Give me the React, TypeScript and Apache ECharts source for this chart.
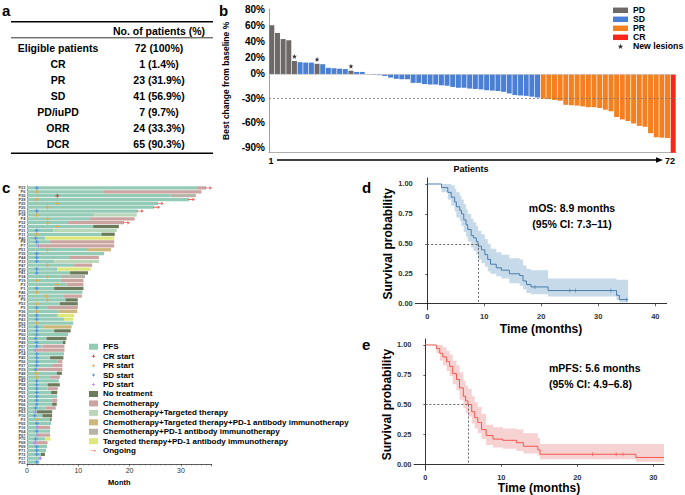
import React, { useEffect, useRef } from 'react';
import * as echarts from 'echarts';

const FONT = '"Liberation Sans", Arial, Helvetica, sans-serif';

// ---------- Panel a: response table ----------
const tableRows = ['Eligible patients', 'CR', 'PR', 'SD', 'PD/iuPD', 'ORR', 'DCR'];
const tableValues = ['72 (100%)', '1 (1.4%)', '23 (31.9%)', '41 (56.9%)', '7 (9.7%)', '24 (33.3%)', '65 (90.3%)'];
const tableHeader = 'No. of patients (%)';

// ---------- Panel b: waterfall ----------
const wfChange = [
  60, 50.5, 43, 41.5, 16, 14.5, 14, 14, 12.5, 12, 7.5, 7, 6.5, 6, 4, 2.5, 2.5, -0.5, -1, -1.5,
  -2.5, -4.5, -6, -6.5, -6.5, -11, -11, -12.5, -13, -13, -14, -14.5, -16, -17, -17, -18, -18.5, -19, -20, -20.5,
  -21, -22, -24, -26, -26.5, -27, -28, -29, -30.5, -31, -32, -33, -38, -38.5, -39, -40, -41, -41, -42, -44,
  -46, -53, -56, -58, -61, -64, -65, -73, -78, -78.5, -79, -97,
];
const wfResponse = [
  'PD', 'PD', 'PD', 'PD', 'PD', 'SD', 'SD', 'SD', 'PD', 'SD', 'SD', 'SD', 'SD', 'SD', 'PD', 'SD', 'SD', 'SD', 'SD', 'SD',
  'SD', 'SD', 'SD', 'SD', 'SD', 'SD', 'SD', 'SD', 'SD', 'SD', 'SD', 'SD', 'SD', 'SD', 'SD', 'SD', 'SD', 'SD', 'SD', 'SD',
  'SD', 'SD', 'SD', 'SD', 'SD', 'SD', 'SD', 'SD', 'PR', 'PR', 'PR', 'PR', 'PR', 'PR', 'PR', 'PR', 'PR', 'PR', 'PR', 'PR',
  'PR', 'PR', 'PR', 'PR', 'PR', 'PR', 'PR', 'PR', 'PR', 'PR', 'PR', 'CR',
];
const wfNewLesions = [5, 9, 15]; // patient positions (1-based)
const wfTickValues = [-90, -60, -30, 0, 20, 40, 60, 80];
const wfThreshold = -30;
const wfCodes = ['PD', 'SD', 'PR', 'CR'];
const wfColors: Record<string, string> = { PD: '#6d6969', SD: '#4a7fd6', PR: '#f4801f', CR: '#f9261b' };

// ---------- Panel c: swimmer plot ----------
const swPatients = [
  'P23', 'P6', 'P30', 'P28', 'P25', 'P26', 'P15', 'P18', 'P4', 'P32', 'P12', 'P31', 'P11', 'P40', 'P8', 'P7', 'P51', 'P35',
  'P44', 'P33', 'P47', 'P20', 'P41', 'P34', 'P19', 'P3', 'P1', 'P46', 'P37', 'P9', 'P53', 'P5', 'P36', 'P39', 'P43', 'P52',
  'P13', 'P24', 'P60', 'P38', 'P49', 'P57', 'P21', 'P14', 'P45', 'P56', 'P27', 'P29', 'P48', 'P50', 'P42', 'P58', 'P62', 'P55',
  'P61', 'P54', 'P66', 'P59', 'P63', 'P10', 'P2', 'P65', 'P16', 'P64', 'P67', 'P70', 'P68', 'P69', 'P71', 'P72', 'P17', 'P22',
];
const swPfs = [
  33.1, 15.0, 28.0, 31.6, 25.5, 24.8, 21.6, 13.1, 12.3, 8.0, 12.9, 5.1, 14.5, 3.5, 4.5, 2.5, 11.9, 15.0,
  8.2, 5.3, 9.2, 5.9, 8.4, 6.6, 6.6, 7.7, 5.3, 10.8, 7.2, 7.5, 6.4, 4.1, 6.2, 6.0, 7.2, 9.0,
  3.3, 5.3, 8.0, 3.8, 7.0, 3.0, 1.7, 7.2, 4.5, 5.9, 4.9, 2.0, 5.8, 4.5, 6.2, 4.0, 4.0, 4.7,
  5.9, 4.9, 4.9, 3.6, 1.9, 3.0, 4.5, 4.7, 2.0, 4.5, 2.0, 3.5, 1.5, 3.9, 3.7, 2.7, 2.7, 2.4,
];
const swEnd = [
  34.9, 34.0, 32.9, 31.6, 25.5, 24.8, 21.6, 21.4, 21.0, 18.9, 17.9, 17.5, 17.1, 17.0, 17.0, 17.0, 16.4, 15.0,
  14.0, 14.0, 12.7, 12.4, 11.9, 11.3, 11.0, 11.0, 11.0, 10.8, 10.7, 9.9, 9.9, 9.9, 9.8, 9.2, 9.0, 9.0,
  8.7, 8.5, 8.0, 7.7, 7.5, 7.3, 7.3, 7.2, 7.1, 6.9, 6.9, 6.9, 6.8, 6.4, 6.2, 6.4, 6.0, 5.9,
  5.9, 5.9, 5.8, 5.6, 4.9, 4.9, 4.8, 4.7, 4.5, 4.5, 4.5, 4.6, 4.0, 3.9, 3.7, 3.5, 2.7, 2.4,
];
const swTreat = [
  'C', 'C', 'CP', '', '', '', '', 'CT', 'C', 'C', 'N', 'CT', 'N', 'TP', 'C', 'C', 'CTP', '',
  'C', 'CT', 'C', 'TP', 'N', 'CP', 'C', 'C', 'N', '', 'C', 'N', 'N', 'C', 'CTP', 'TP', 'TP', '',
  'CTP', 'N', '', 'N', 'N', 'C', 'C', '', 'N', 'C', 'C', 'C', 'N', 'C', '', 'N', 'C', 'N',
  '', 'C', 'N', 'C', 'N', 'N', 'N', '', 'C', '', 'C', 'TP', 'C', '', '', 'N', '', '',
];
const swResp = [
  'SD', 'PR', 'CR', 'PR', 'PR', 'PR', 'SD', 'PR', 'PR', 'PR', 'PR', 'SD', 'PR', 'SD', 'SD', 'PD', 'PR', 'SD',
  'SD', 'SD', 'PR', 'SD', 'SD', 'PR', 'PR', 'PR', 'SD', 'PR', 'PR', 'PR', 'PR', 'SD', 'PR', 'SD', 'SD', 'PR',
  'SD', 'SD', 'SD', 'SD', 'SD', 'SD', 'PD', 'SD', 'SD', 'SD', 'SD', 'SD', 'PR', 'PR', 'SD', 'SD', 'SD', 'SD',
  'SD', 'SD', 'SD', 'SD', 'PD', 'SD', 'PR', 'SD', 'PD', 'SD', 'PD', 'SD', 'PD', 'SD', 'SD', 'SD', 'PD', 'SD',
];
const swRespTime = [
  1.9, 1.9, 5.9, 1.9, 5.9, 4.0, 1.9, 1.9, 4.0, 4.0, 5.9, 1.9, 1.9, 1.7, 1.9, 2.2, 4.0, 1.9,
  1.9, 1.9, 4.0, 1.9, 1.9, 4.0, 1.9, 5.9, 1.9, 1.9, 3.8, 4.0, 1.9, 1.9, 1.9, 1.9, 1.9, 1.9,
  1.9, 1.9, 1.9, 1.7, 1.9, 1.9, 1.6, 1.9, 1.9, 1.9, 1.9, 1.7, 1.9, 1.9, 1.9, 1.9, 1.9, 1.9,
  1.9, 1.9, 1.9, 1.7, 1.6, 1.5, 2.0, 1.9, 2.0, 1.9, 2.0, 1.7, 1.5, 1.9, 1.9, 1.9, 2.6, 1.9,
];
const swOngoing = [1, 4, 5, 6, 7, 10]; // row numbers (1-based)
const swTreatCodes = ['N', 'C', 'CT', 'CTP', 'CP', 'TP'];
const swTreatNames: Record<string, string> = {
  N: 'No treatment',
  C: 'Chemotherapy',
  CT: 'Chemotherapy+Targeted therapy',
  CTP: 'Chemotherapy+Targeted therapy+PD-1 antibody immunotherapy',
  CP: 'Chemotherapy+PD-1 antibody immunotherapy',
  TP: 'Targeted therapy+PD-1 antibody immunotherapy',
};
const swTreatColors: Record<string, string> = {
  N: '#6c7b5b', C: '#c9a4a1', CT: '#bad6b8', CTP: '#cdb77b', CP: '#b6b4a6', TP: '#dde77c',
};
const swRespCodes = ['CR', 'PR', 'SD', 'PD'];
const swRespColors: Record<string, string> = { CR: '#c6262b', PR: '#f2a431', SD: '#3f80e6', PD: '#b57cf6' };
const swPfsColor = '#94cbb7';
const swOngoingColor = '#e8413c';

// ---------- Panel d: overall survival ----------
const osTime = [0, 2.5, 3.6, 4.2, 4.8, 5.1, 5.7, 6.0, 6.4, 6.8, 7.1, 7.7, 8.1, 8.6, 8.9, 9.5, 10.1, 10.6, 11.1, 12.1, 13.0, 14.4, 16.2, 16.8, 17.4, 18.2, 21.2, 33.2, 33.7, 35.2];
const osSurv = [1, 0.97, 0.93, 0.89, 0.85, 0.81, 0.78, 0.75, 0.70, 0.66, 0.62, 0.57, 0.55, 0.52, 0.48, 0.45, 0.41, 0.37, 0.33, 0.30, 0.28, 0.25, 0.235, 0.19, 0.16, 0.14, 0.11, 0.07, 0.035, 0.035];
const osUpper = [1, 1, 1, 0.99, 0.96, 0.93, 0.90, 0.87, 0.83, 0.79, 0.75, 0.71, 0.68, 0.65, 0.61, 0.58, 0.54, 0.50, 0.46, 0.43, 0.41, 0.38, 0.37, 0.32, 0.29, 0.28, 0.21, 0.20, 0.20, 0.20];
const osLower = [1, 0.93, 0.87, 0.82, 0.77, 0.72, 0.69, 0.65, 0.60, 0.56, 0.52, 0.47, 0.44, 0.41, 0.37, 0.34, 0.31, 0.27, 0.25, 0.23, 0.21, 0.17, 0.15, 0.12, 0.09, 0.08, 0.06, 0.03, 0.01, 0.01];
const osCensor = [18.9, 25.0, 26.0, 32.2, 35.0];
const osMedian = 8.9;

// ---------- Panel e: progression-free survival ----------
const pfsTime = [0, 1.45, 1.9, 2.3, 2.8, 3.2, 3.6, 4.1, 4.5, 5.0, 5.3, 5.6, 6.1, 6.5, 6.9, 7.4, 8.0, 8.9, 10.2, 12.0, 12.9, 14.8, 15.1, 27.7, 31.4];
const pfsSurv = [1, 0.97, 0.93, 0.90, 0.86, 0.82, 0.76, 0.71, 0.64, 0.57, 0.53, 0.50, 0.44, 0.39, 0.35, 0.29, 0.24, 0.21, 0.20, 0.18, 0.15, 0.12, 0.083, 0.056, 0.056];
const pfsUpper = [1, 1, 1, 0.98, 0.95, 0.92, 0.87, 0.83, 0.77, 0.70, 0.66, 0.63, 0.57, 0.52, 0.48, 0.42, 0.33, 0.31, 0.30, 0.29, 0.26, 0.22, 0.17, 0.17, 0.17];
const pfsLower = [1, 0.93, 0.87, 0.83, 0.78, 0.74, 0.67, 0.62, 0.54, 0.47, 0.43, 0.40, 0.34, 0.30, 0.26, 0.21, 0.16, 0.14, 0.13, 0.11, 0.09, 0.07, 0.04, 0.02, 0.02];
const pfsCensor = [22.0, 25.1, 26.0];
const pfsMedian = 5.6;

const kmTicksY = [0, 0.25, 0.5, 0.75, 1];

// ---------- helpers ----------
const starPath = 'path://M5,0L6.2,3.6L10,3.6L7,5.8L8.1,9.5L5,7.3L1.9,9.5L3,5.8L0,3.6L3.8,3.6Z';
const plusPath = 'path://M3,0H5V3H8V5H5V8H3V5H0V3H3Z';
const plusIcon = 'path://M0,0M12,12M5,3H7V5H9V7H7V9H5V7H3V5H5Z';
const arrowPath = 'path://M0,2.5H7V3.5H0Z M6.3,1L10,3L6.3,5Z';
const arrowIcon = 'path://M0,0M12,12M1,5.5H8V6.5H1Z M7.5,4L11,6L7.5,8Z';

function stepAt(times: number[], surv: number[], t: number) {
  let v = surv[0];
  for (let i = 0; i < times.length; i++) if (times[i] <= t) v = surv[i];
  return v;
}

function bandRenderer(t: number[], lo: number[], up: number[], color: string) {
  return (_params: any, api: any) => {
    const pts: number[][] = [];
    for (let i = 0; i < t.length; i++) {
      pts.push(api.coord([t[i], up[i]]));
      if (i < t.length - 1) pts.push(api.coord([t[i + 1], up[i]]));
    }
    for (let i = t.length - 1; i >= 0; i--) {
      if (i < t.length - 1) pts.push(api.coord([t[i + 1], lo[i]]));
      pts.push(api.coord([t[i], lo[i]]));
    }
    return { type: 'polygon', shape: { points: pts }, style: { fill: color } };
  };
}

function txt(x: number, y: number, text: string, size: number, align = 'center', weight = 'bold', color = '#000') {
  return {
    type: 'text',
    x,
    y,
    silent: true,
    style: {
      text,
      fill: color,
      font: `${weight} ${size}px ${FONT}`,
      align,
      verticalAlign: 'middle',
    },
  };
}

function kmSeries(
  gi: number, t: number[], s: number[], lo: number[], up: number[], censor: number[], median: number,
  lineColor: string, bandColor: string, name: string,
) {
  return [
    {
      type: 'custom',
      name: name + ' CI',
      xAxisIndex: gi,
      yAxisIndex: gi,
      silent: true,
      renderItem: bandRenderer(t, lo, up, bandColor),
      data: [[t[0], s[0]]],
      encode: { x: 0, y: 1 },
      z: 1,
    },
    {
      type: 'line',
      name,
      xAxisIndex: gi,
      yAxisIndex: gi,
      step: 'end',
      symbol: 'none',
      data: t.map((v, i) => [v, s[i]]),
      lineStyle: { color: lineColor, width: 1 },
      itemStyle: { color: lineColor },
      z: 3,
      markLine: {
        silent: true,
        symbol: 'none',
        label: { show: false },
        lineStyle: { color: '#666', width: 1, type: [2, 2] },
        data: [
          [{ coord: [0, 0.5] }, { coord: [median, 0.5] }],
          [{ coord: [median, 0.5] }, { coord: [median, 0] }],
        ],
      },
    },
    {
      type: 'scatter',
      name: name + ' censored',
      xAxisIndex: gi,
      yAxisIndex: gi,
      symbol: 'rect',
      symbolSize: [0.8, 4],
      itemStyle: { color: lineColor },
      data: censor.map((c) => [c, stepAt(t, s, c)]),
      z: 4,
    },
  ];
}

function kmXAxis(gi: number, min: number, max: number, ticks: number[], nameGap: number) {
  return {
    type: 'value',
    gridIndex: gi,
    min,
    max,
    name: 'Time (months)',
    nameLocation: 'middle',
    nameGap,
    nameTextStyle: { fontSize: 12, fontWeight: 'bold', color: '#000', fontFamily: FONT },
    axisLine: { show: true, lineStyle: { color: '#000', width: 0.8 } },
    axisTick: { show: true, length: 2.5, customValues: ticks, lineStyle: { color: '#333', width: 0.8 } },
    axisLabel: { customValues: ticks, fontSize: 7.5, fontWeight: 'bold', color: '#333', margin: 3, fontFamily: FONT },
    splitLine: { show: false },
  };
}

function kmYAxis(gi: number) {
  return {
    type: 'value',
    gridIndex: gi,
    min: -0.05,
    max: 1.05,
    name: 'Survival probability',
    nameLocation: 'middle',
    nameRotate: 90,
    nameGap: 16,
    nameTextStyle: { fontSize: 12, fontWeight: 'bold', color: '#000', fontFamily: FONT },
    axisLine: { show: true, lineStyle: { color: '#000', width: 0.8 } },
    axisTick: { show: true, length: 2, customValues: kmTicksY, lineStyle: { color: '#333', width: 0.8 } },
    axisLabel: {
      customValues: kmTicksY,
      formatter: (v: number) => v.toFixed(2),
      fontSize: 7.5,
      fontWeight: 'bold',
      color: '#333',
      margin: 2.5,
      fontFamily: FONT,
    },
    splitLine: { show: false },
  };
}

function buildOption() {
  const wfCats = wfChange.map((_, i) => String(i + 1));

  const wfSeries: any[] = wfCodes.map((code, k) => ({
    type: 'bar',
    name: code,
    xAxisIndex: 0,
    yAxisIndex: 0,
    stack: 'wf',
    barCategoryGap: '12%',
    itemStyle: { color: wfColors[code] },
    data: wfChange.map((v, i) => (wfResponse[i] === code ? v : '-')),
    markLine:
      k === 0
        ? {
            silent: true,
            symbol: 'none',
            label: { show: false },
            data: [
              { yAxis: wfThreshold, lineStyle: { color: '#777', width: 0.8, type: [2, 2] } },
              { yAxis: 0, lineStyle: { color: '#c8c8c8', width: 0.8, type: 'solid' } },
            ],
          }
        : undefined,
  }));
  wfSeries.push({
    type: 'scatter',
    name: 'New lesions',
    xAxisIndex: 0,
    yAxisIndex: 0,
    symbol: starPath,
    symbolSize: 5,
    symbolOffset: [0, -4.5],
    itemStyle: { color: '#000' },
    data: wfNewLesions.map((p) => [p - 1, wfChange[p - 1]]),
    z: 5,
  });

  const swSeries: any[] = [];
  swSeries.push({
    type: 'bar',
    name: 'PFS',
    xAxisIndex: 1,
    yAxisIndex: 1,
    stack: 'sw',
    barCategoryGap: '16%',
    itemStyle: { color: swPfsColor },
    data: swPfs,
  });
  swTreatCodes.forEach((code) => {
    swSeries.push({
      type: 'bar',
      name: swTreatNames[code],
      xAxisIndex: 1,
      yAxisIndex: 1,
      stack: 'sw',
      barCategoryGap: '16%',
      itemStyle: { color: swTreatColors[code] },
      data: swTreat.map((t, i) => (t === code ? +(swEnd[i] - swPfs[i]).toFixed(2) : '-')),
    });
  });
  swRespCodes.forEach((code) => {
    swSeries.push({
      type: 'scatter',
      name: code + ' start',
      xAxisIndex: 1,
      yAxisIndex: 1,
      symbol: plusPath,
      symbolSize: 4,
      itemStyle: { color: swRespColors[code] },
      data: swResp
        .map((r, i) => (r === code ? [swRespTime[i], swPatients[i]] : null))
        .filter((d) => d !== null),
      z: 5,
    });
  });
  swSeries.push({
    type: 'scatter',
    name: 'Ongoing',
    xAxisIndex: 1,
    yAxisIndex: 1,
    symbol: arrowPath,
    symbolSize: [7, 3.5],
    symbolOffset: [2.5, 0],
    itemStyle: { color: swOngoingColor },
    data: swOngoing.map((r) => [swEnd[r - 1], swPatients[r - 1]]),
    z: 5,
  });

  const kmD = kmSeries(2, osTime, osSurv, osLower, osUpper, osCensor, osMedian, '#4a7dab', '#c7dae9', 'OS');
  const kmE = kmSeries(3, pfsTime, pfsSurv, pfsLower, pfsUpper, pfsCensor, pfsMedian, '#ef5a4d', '#f7d2d3', 'PFS curve');

  // graphic: table, panel letters, arrows, annotations
  const graphics: any[] = [];
  graphics.push(txt(2, 10, 'a', 15, 'left'));
  graphics.push(txt(219, 10, 'b', 15, 'left'));
  graphics.push(txt(2, 187.5, 'c', 15, 'left'));
  graphics.push(txt(362, 187.5, 'd', 15, 'left'));
  graphics.push(txt(362, 344, 'e', 15, 'left'));

  graphics.push({ type: 'line', silent: true, shape: { x1: 11, y1: 21.7, x2: 213, y2: 21.7 }, style: { stroke: '#000', lineWidth: 1.5 } });
  graphics.push({ type: 'line', silent: true, shape: { x1: 11, y1: 37.8, x2: 213, y2: 37.8 }, style: { stroke: '#000', lineWidth: 0.8 } });
  graphics.push({ type: 'line', silent: true, shape: { x1: 11, y1: 153.2, x2: 213, y2: 153.2 }, style: { stroke: '#000', lineWidth: 1.5 } });
  graphics.push(txt(159, 30.5, tableHeader, 10.5));
  tableRows.forEach((r, i) => {
    graphics.push(txt(58, 48.3 + i * 15.95, r, 10.5));
    graphics.push(txt(159, 48.3 + i * 15.95, tableValues[i], 10.5));
  });

  // patients arrow under waterfall
  graphics.push(txt(271, 160.5, '1', 9));
  graphics.push(txt(670, 160.5, String(wfChange.length), 9));
  graphics.push({ type: 'line', silent: true, shape: { x1: 277, y1: 160, x2: 658, y2: 160 }, style: { stroke: '#000', lineWidth: 1.6 } });
  graphics.push({ type: 'polygon', silent: true, shape: { points: [[656, 157.2], [663, 160], [656, 162.8]] }, style: { fill: '#000' } });
  graphics.push(txt(471, 168.8, 'Patients', 9));

  // KM annotations
  graphics.push(txt(572, 208, `mOS: ${osMedian} months`, 10.5));
  graphics.push(txt(572, 223.5, '(95% CI: 7.3\u201311)', 10.5));
  graphics.push(txt(549, 368, `mPFS: ${pfsMedian} months`, 10.5, 'left'));
  graphics.push(txt(549, 383.5, '(95% CI: 4.9\u20136.8)', 10.5, 'left'));

  const legendTextB = { fontSize: 8.7, fontWeight: 'bold', color: '#000', fontFamily: FONT, lineHeight: 8.4 };
  const legendTextC = { fontSize: 8, fontWeight: 'bold', color: '#000', fontFamily: FONT, lineHeight: 9.45 };

  return {
    animation: false,
    backgroundColor: '#fff',
    textStyle: { fontFamily: FONT },
    grid: [
      { left: 269, top: 9, width: 407, height: 143.7, containLabel: false },
      { left: 27, top: 186, width: 184.7, height: 278, containLabel: false },
      { left: 415.3, top: 178, width: 251.4, height: 131.7, containLabel: false },
      { left: 414, top: 339, width: 250, height: 131.3, containLabel: false },
    ],
    legend: [
      {
        orient: 'vertical',
        left: 613,
        top: 5.8,
        padding: 0,
        itemGap: 0,
        itemWidth: 15,
        itemHeight: 5.5,
        selectedMode: false,
        textStyle: legendTextB,
        data: [
          { name: 'PD', icon: 'rect' },
          { name: 'SD', icon: 'rect' },
          { name: 'PR', icon: 'rect' },
          { name: 'CR', icon: 'rect' },
          { name: 'New lesions', icon: starPath },
        ],
      },
      {
        orient: 'vertical',
        left: 89,
        top: 342,
        padding: 0,
        itemGap: 0,
        itemWidth: 9,
        itemHeight: 6,
        selectedMode: false,
        textStyle: legendTextC,
        data: [
          { name: 'PFS', icon: 'rect' },
          { name: 'CR start', icon: plusIcon },
          { name: 'PR start', icon: plusIcon },
          { name: 'SD start', icon: plusIcon },
          { name: 'PD start', icon: plusIcon },
          ...swTreatCodes.map((c) => ({ name: swTreatNames[c], icon: 'rect' })),
          { name: 'Ongoing', icon: arrowIcon },
        ],
      },
    ],
    xAxis: [
      {
        type: 'category',
        gridIndex: 0,
        data: wfCats,
        axisLine: { show: true, onZero: false, lineStyle: { color: '#9a9a9a', width: 0.8 } },
        axisTick: { show: false },
        axisLabel: { show: false },
        splitLine: { show: false },
      },
      {
        type: 'value',
        gridIndex: 1,
        min: 0,
        max: 36,
        interval: 10,
        name: 'Month',
        nameLocation: 'middle',
        nameGap: 10,
        nameTextStyle: { fontSize: 7.5, fontWeight: 'bold', color: '#000', fontFamily: FONT },
        axisLine: { show: true, lineStyle: { color: '#333', width: 0.8 } },
        axisTick: { show: true, length: 2.5, lineStyle: { color: '#333', width: 0.6 } },
        minorTick: { show: true, splitNumber: 10, length: 1.5, lineStyle: { color: '#555', width: 0.5 } },
        axisLabel: {
          fontSize: 7,
          color: '#333',
          margin: 3,
          fontFamily: FONT,
          formatter: (v: number) => (v % 10 === 0 ? String(v) : ''),
        },
        splitLine: { show: false },
      },
      kmXAxis(2, -2.1, 42, [0, 10, 20, 30, 40], 13),
      kmXAxis(3, -1.49, 31.4, [0, 10, 20, 30], 7),
    ],
    yAxis: [
      {
        type: 'value',
        gridIndex: 0,
        min: -97,
        max: 80,
        name: 'Best change from baseline %',
        nameLocation: 'middle',
        nameRotate: 90,
        nameGap: 28,
        nameTextStyle: { fontSize: 8.5, fontWeight: 'bold', color: '#000', fontFamily: FONT },
        axisLine: { show: true, lineStyle: { color: '#8a8a8a', width: 0.8 } },
        axisTick: { show: false },
        axisLabel: {
          customValues: wfTickValues,
          formatter: (v: number) => `${v}%`,
          fontSize: 10,
          fontWeight: 'bold',
          color: '#000',
          margin: 4,
          fontFamily: FONT,
        },
        splitLine: { show: false },
      },
      {
        type: 'category',
        gridIndex: 1,
        inverse: true,
        data: swPatients,
        axisLine: { show: true, lineStyle: { color: '#333', width: 0.8 } },
        axisTick: { show: false },
        axisLabel: { interval: 0, fontSize: 4, color: '#444', margin: 1.5, fontFamily: FONT, fontWeight: 'bold' },
        splitLine: { show: false },
      },
      kmYAxis(2),
      kmYAxis(3),
    ],
    series: [...wfSeries, ...swSeries, ...kmD, ...kmE],
    graphic: graphics,
  };
}

export default function App() {
  const ref = useRef<HTMLDivElement>(null);
  useEffect(() => {
    if (!ref.current) return;
    const chart = echarts.init(ref.current, null, { renderer: 'svg', width: 685, height: 495 });
    chart.setOption(buildOption() as any);
    return () => chart.dispose();
  }, []);
  return (
    <div
      ref={ref}
      style={{ position: 'absolute', left: 0, top: 0, width: 685, height: 495, background: '#fff' }}
    />
  );
}
